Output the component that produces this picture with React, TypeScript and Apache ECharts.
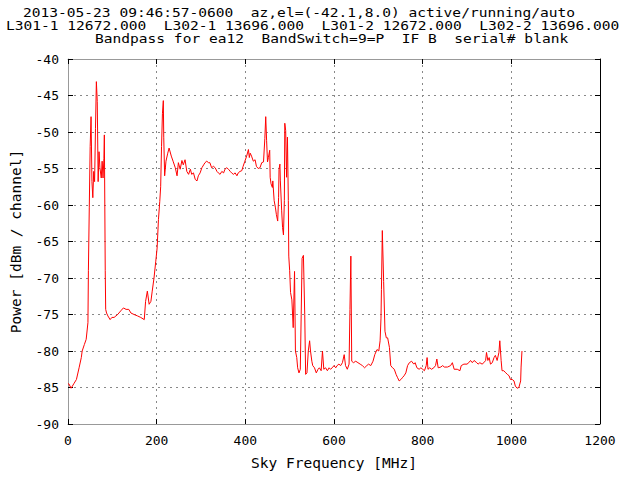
import React, { useEffect, useRef } from "react";
import * as echarts from "echarts";

const titleLines = [
  "2013-05-23 09:46:57-0600  az,el=(-42.1,8.0) active/running/auto",
  "L301-1 12672.000  L302-1 13696.000  L301-2 12672.000  L302-2 13696.000",
  "Bandpass for ea12  BandSwitch=9=P  IF B  serial# blank",
];
const xName = "Sky Frequency [MHz]";
const yName = "Power [dBm / channel]";

const freq = [
  0, 2, 7, 13, 19, 25, 30, 32, 37, 41, 45, 46, 48, 50, 52, 54, 56, 58, 60, 62,
  64, 66, 68, 70, 72, 75, 77, 79, 81, 82, 84, 85, 87, 90, 95, 99, 104, 112, 119, 125,
  131, 137, 142, 149, 157, 164, 172, 175, 179, 183, 187, 190, 194, 198, 201, 204, 207, 209, 211, 213,
  215, 216, 218, 221, 225, 228, 233, 237, 242, 246, 249, 253, 257, 260, 264, 268, 272, 276, 279, 283,
  287, 291, 294, 298, 302, 306, 309, 313, 317, 320, 324, 328, 332, 336, 339, 343, 347, 351, 354, 358,
  362, 366, 369, 373, 377, 381, 384, 388, 392, 395, 399, 403, 407, 409, 411, 414, 418, 422, 425, 429,
  433, 437, 441, 444, 446, 448, 450, 452, 455, 456, 458, 461, 462, 465, 468, 470, 473, 475, 476, 478,
  479, 482, 484, 486, 488, 489, 491, 493, 495, 497, 498, 500, 502, 505, 508, 511, 513, 516, 518, 521, 524, 526,
  528, 531, 534, 536, 539, 542, 545, 547, 550, 552, 556, 560, 564, 567, 571, 574, 577, 581, 585, 589,
  592, 596, 600, 604, 607, 611, 615, 619, 623, 626, 630, 634, 636, 638, 640, 644, 649, 654, 659, 664,
  669, 674, 678, 683, 688, 692, 697, 701, 704, 706, 707, 709, 712, 715, 718, 721, 725, 728, 732, 736,
  740, 743, 747, 751, 755, 758, 762, 766, 770, 775, 780, 783, 787, 792, 796, 800, 804, 808, 810, 812,
  816, 820, 825, 829, 832, 835, 841, 845, 849, 856, 863, 867, 871, 878, 884, 887, 893, 900, 904, 908,
  912, 916, 922, 925, 929, 934, 938, 942, 944, 947, 950, 953, 957, 961, 964, 968, 972, 974, 977, 979,
  983, 986, 991, 995, 998, 1002, 1006, 1009, 1013, 1017, 1021, 1022, 1024,
];

const power = [
  -84.5, -84.5, -85.1, -84.5, -83.9, -82.3, -80.9, -80, -79.1, -78.4, -76.1, -69, -60.4, -52, -47.9, -56.8, -59, -55.4, -56.8, -49.5,
  -43.1, -45.8, -56.8, -52.7, -54.9, -56.3, -54, -56.3, -53.6, -50.4, -69, -74.3, -74.8, -75.2, -75.7, -75.4, -75.4, -75, -74.5, -74.1,
  -74.3, -74.3, -74.8, -75, -75.2, -75.4, -75.7, -73.2, -71.8, -73.6, -73.2, -71.8, -70, -67.7, -65.9, -62, -59.5, -57.5, -52, -47.5,
  -45.7, -50.8, -56, -54, -52.9, -52.2, -53.3, -54, -54.9, -56, -54.2, -55.1, -53.9, -54.5, -53.8, -55.4, -55.8, -55.1, -55.8, -55.6,
  -56.5, -56.7, -56, -55.6, -54.9, -54.5, -54.2, -54, -54.2, -54.2, -54.9, -54.7, -54.9, -55.4, -55.6, -55.8, -55.4, -55.6, -55.1, -54.9,
  -55.1, -55.4, -55.6, -55.8, -55.6, -56, -55.6, -55.4, -55.3, -54.7, -54, -53.3, -52.4, -53.5, -52.9, -53.3, -54, -53.8, -54.7, -55,
  -54.9, -54.2, -54.1, -50.9, -47.9, -51.2, -54.1, -53.5, -52.5, -56.2, -57.1, -57.6, -56.7, -59.4, -60.4, -61.3, -62.2, -59, -55.1, -54.4,
  -56.7, -60.8, -63.1, -64.1, -59.4, -48.8, -49.8, -56.2, -50.7, -59.4, -67, -69, -72, -73, -76.8, -69.1, -80, -80.9, -82.3, -83, -82.5, -75,
  -67.3, -66.9, -75, -83.2, -83, -80, -78.6, -80, -81.4, -82, -82.3, -83, -82.5, -82.3, -82.7, -80, -82.5, -82.3, -82.7, -82.3,
  -82.5, -82.3, -82, -82.3, -82, -81.8, -82, -81.6, -80.5, -82, -82.5, -81.8, -74.3, -67, -81.4, -81.6, -81.4, -81.6, -81.8, -82,
  -82.3, -82, -81.8, -82, -81.4, -80.5, -79.8, -80, -78.6, -75.5, -71.6, -63.5, -70.5, -77.3, -78.2, -78.2, -79.5, -82, -82.3, -82.5,
  -83.2, -83.6, -84.1, -83.9, -83.6, -83.4, -83, -82, -81.6, -81.4, -81.8, -81.6, -82.3, -82.5, -82.3, -82.5, -82.7, -82, -80.9, -82.5,
  -82.3, -82.5, -82.3, -82, -81.1, -82.3, -82.2, -82, -82.2, -82.2, -82, -81.6, -82.5, -82.5, -82.7, -82, -81.8, -81.8, -81.6, -81.3,
  -81.6, -81.3, -81.6, -81.8, -81.6, -81.8, -81.6, -81.3, -80.2, -81.3, -80.9, -81.8, -81.6, -80.9, -80.6, -81.3, -80.2, -78.6, -81.3, -82.7,
  -82.7, -82.9, -83.2, -83.4, -83.9, -83.9, -84.1, -84.8, -85.1, -85, -84.1, -82.2, -80,
];

const X_MIN = 0;
const X_MAX = 1200;
const X_STEP = 200;
const Y_MIN = -90;
const Y_MAX = -40;
const Y_STEP = 5;

const MONO = "'DejaVu Sans Mono', monospace";

// title line layout (left edge, vertical centre)
const titleX = [23, 6, 95];
const titleY = [12.5, 25.5, 38.5];

export default function App() {
  const ref = useRef<HTMLDivElement>(null);

  useEffect(() => {
    document.body.style.margin = "0";
    if (!ref.current) return;
    const chart = echarts.init(ref.current, undefined, { renderer: "svg" });
    const data = freq.map((f, i) => [f, power[i]]);
    const gridLine = { show: true, lineStyle: { color: "#888", type: [2, 4] as any, width: 1 } };
    const plain = (v: number) => String(v);
    chart.setOption({
      animation: false,
      backgroundColor: "#fff",
      graphic: titleLines.map((t, i) => ({
        type: "text",
        x: titleX[i],
        y: titleY[i],
        scaleX: 1.12,
        style: {
          text: t,
          fontFamily: MONO,
          fontSize: 13,
          fill: "#000",
          align: "left",
          verticalAlign: "middle",
        },
      })),
      grid: { left: 65, top: 59, right: 40, bottom: 64, containLabel: false },
      xAxis: [
        {
          type: "value",
          min: X_MIN,
          max: X_MAX,
          interval: X_STEP,
          position: "bottom",
          name: xName,
          nameLocation: "middle",
          nameGap: 31,
          nameTextStyle: { fontFamily: MONO, fontSize: 14.5, color: "#000" },
          axisLine: { show: true, onZero: false, lineStyle: { color: "#999", width: 1 } },
          axisTick: { show: true, inside: true, length: 5, lineStyle: { color: "#000" } },
          axisLabel: { fontFamily: MONO, fontSize: 13, color: "#000", margin: 10, formatter: plain },
          splitLine: gridLine,
        },
        {
          type: "value",
          min: X_MIN,
          max: X_MAX,
          interval: X_STEP,
          position: "top",
          axisLine: { show: true, onZero: false, lineStyle: { color: "#999", width: 1 } },
          axisTick: { show: true, inside: true, length: 5, lineStyle: { color: "#000" } },
          axisLabel: { show: false },
          splitLine: { show: false },
        },
      ],
      yAxis: [
        {
          type: "value",
          min: Y_MIN,
          max: Y_MAX,
          interval: Y_STEP,
          position: "left",
          name: yName,
          nameLocation: "middle",
          nameGap: 45,
          nameTextStyle: { fontFamily: MONO, fontSize: 14.5, color: "#000" },
          axisLine: { show: true, onZero: false, lineStyle: { color: "#999", width: 1 } },
          axisTick: { show: true, inside: true, length: 5, lineStyle: { color: "#000" } },
          axisLabel: { fontFamily: MONO, fontSize: 13, color: "#000", margin: 9, formatter: plain },
          splitLine: gridLine,
        },
        {
          type: "value",
          min: Y_MIN,
          max: Y_MAX,
          interval: Y_STEP,
          position: "right",
          axisLine: { show: true, onZero: false, lineStyle: { color: "#000", width: 1 } },
          axisTick: { show: true, inside: true, length: 5, lineStyle: { color: "#000" } },
          axisLabel: { show: false },
          splitLine: { show: false },
        },
      ],
      series: [
        {
          type: "line",
          data,
          xAxisIndex: 0,
          yAxisIndex: 0,
          showSymbol: false,
          symbol: "none",
          lineStyle: { color: "#ff0000", width: 1 },
          itemStyle: { color: "#ff0000" },
        },
      ],
    });
    return () => chart.dispose();
  }, []);

  return <div ref={ref} style={{ width: 640, height: 488 }} />;
}
